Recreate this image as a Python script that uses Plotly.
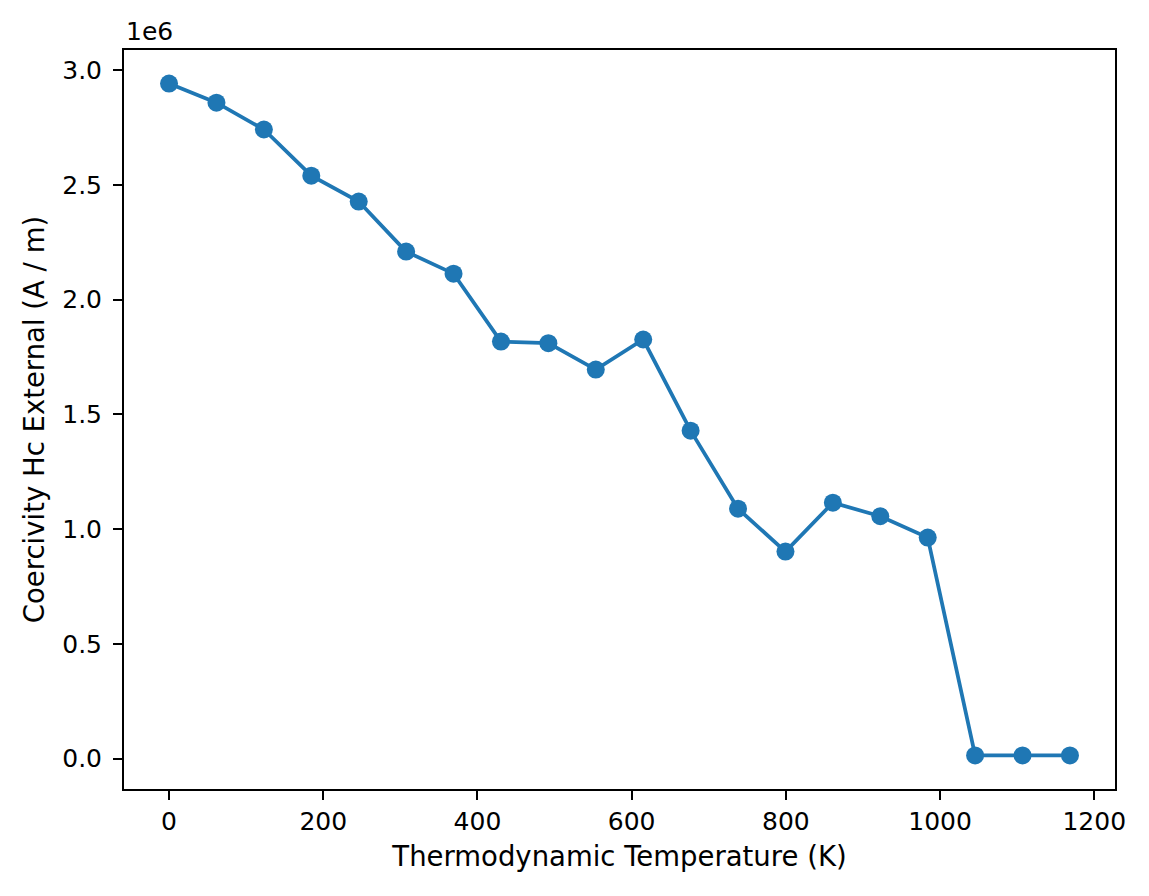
import plotly.graph_objects as go

# temperature (K) and external coercivity Hc (A/m)
temperature = [0, 61.5, 123, 184.5, 246, 307.5, 369, 430.5, 492, 553.5,
               615, 676.5, 738, 799.5, 861, 922.5, 984, 1045.5, 1107, 1168.5]
coercivity = [2.941e6, 2.858e6, 2.741e6, 2.540e6, 2.427e6, 2.209e6, 2.113e6,
              1.817e6, 1.810e6, 1.695e6, 1.826e6, 1.429e6, 1.089e6, 0.902e6,
              1.115e6, 1.056e6, 0.963e6, 0.014e6, 0.014e6, 0.014e6]

x_ticks = [0, 200, 400, 600, 800, 1000, 1200]
y_ticks = [0, 0.5e6, 1.0e6, 1.5e6, 2.0e6, 2.5e6, 3.0e6]
y_tick_text = ["0.0", "0.5", "1.0", "1.5", "2.0", "2.5", "3.0"]

# matplotlib-style 5% margins
xpad = 0.05 * (max(temperature) - min(temperature))
ypad = 0.05 * (max(coercivity) - min(coercivity))

tick_font = dict(family="DejaVu Sans", size=25, color="black")
label_font = dict(family="DejaVu Sans", size=27.5, color="black")

fig = go.Figure()
fig.add_trace(go.Scatter(
    x=temperature,
    y=coercivity,
    mode="lines+markers",
    line=dict(color="#1f77b4", width=3.75),
    marker=dict(color="#1f77b4", size=18),
))

axis_common = dict(
    showline=True, linecolor="black", linewidth=2, mirror=True,
    ticks="outside", ticklen=9, tickwidth=2, tickcolor="black",
    showgrid=False, zeroline=False, tickfont=tick_font,
)

fig.update_xaxes(
    range=[min(temperature) - xpad, max(temperature) + xpad],
    tickvals=x_ticks,
    title=dict(text="Thermodynamic Temperature (K)", font=label_font, standoff=12),
    **axis_common,
)
fig.update_yaxes(
    range=[min(coercivity) - ypad, max(coercivity) + ypad],
    tickvals=y_ticks,
    ticktext=y_tick_text,
    ticklabelstandoff=6,
    title=dict(text="Coercivity Hc External (A / m)", font=label_font, standoff=10),
    **axis_common,
)

fig.add_annotation(
    text="1e6", xref="paper", yref="paper", x=0, y=1,
    xanchor="left", yanchor="bottom", yshift=2, showarrow=False, font=tick_font,
)

# page body keeps its default 8px margin, so the figure is shrunk by that much
fig.update_layout(
    width=1141, height=888,
    margin={"l": 116, "r": 34, "t": 42, "b": 107},
    plot_bgcolor="white", paper_bgcolor="white",
    showlegend=False,
)

fig.write_html("out.html")
